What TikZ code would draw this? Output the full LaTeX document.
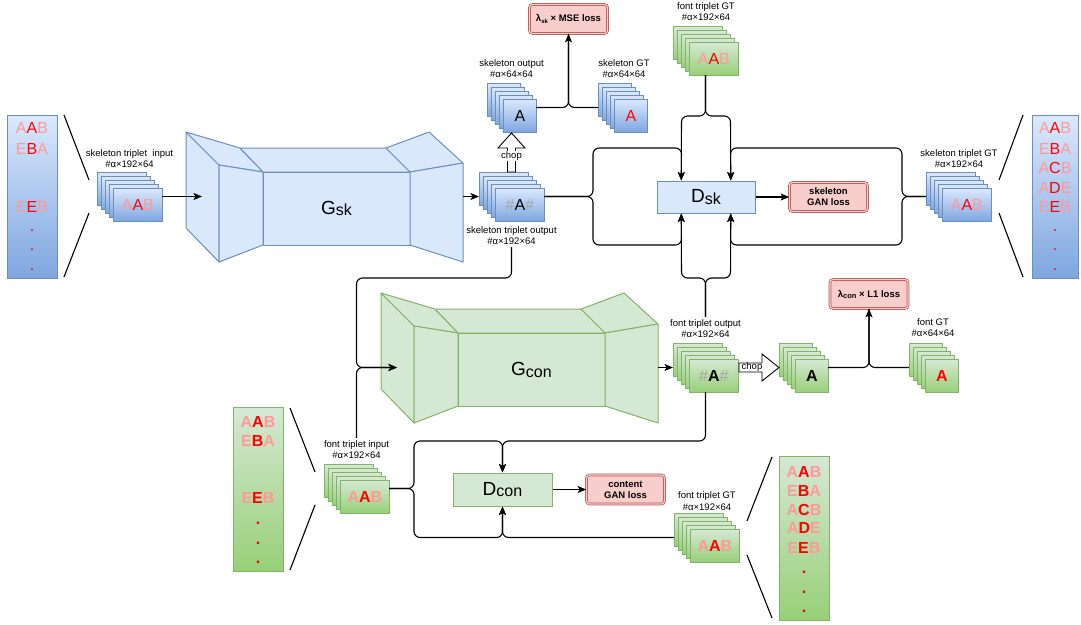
\documentclass[tikz,border=0pt]{standalone}
\usepackage{fontspec}
\setmainfont{Liberation Sans}
\usetikzlibrary{arrows.meta,calc}
\definecolor{bfill}{HTML}{DAE8FC}
\definecolor{bdark}{HTML}{7EA6E0}
\definecolor{bline}{HTML}{6C8EBF}
\definecolor{gfill}{HTML}{D5E8D4}
\definecolor{gdark}{HTML}{97D077}
\definecolor{gline}{HTML}{82B366}
\definecolor{rfill}{HTML}{F8CECC}
\definecolor{rline}{HTML}{B85450}
\definecolor{pinkt}{HTML}{FF9999}
\definecolor{redt}{HTML}{FF0000}
\definecolor{grayt}{HTML}{A6A6A6}
\newcommand{\lbl}{\fontsize{9.5}{11.5}\selectfont}
\newcommand{\cardfont}{\fontsize{16}{19}\selectfont}
\newcommand{\trip}[3]{\textcolor{pinkt}{#1}\textcolor{redt}{#2}\textcolor{pinkt}{#3}}
\newcommand{\hashA}[1]{\textcolor{grayt}{\#}#1\textcolor{grayt}{\#}}
\newcommand{\rdot}{\textcolor{redt}{.}}
\newcommand{\bigsub}[2]{{\fontsize{19}{19}\selectfont #1}\raisebox{-1.5pt}{\fontsize{16}{16}\selectfont #2}}
% #1 name, #2 x, #3 y (back card top-left), #4 w, #5 h, #6 style, #7 text
\newcommand{\cardstack}[7]{%
  \foreach \k in {0,1,2,3}{%
    \node[#6, minimum width=#4pt, minimum height=#5pt, anchor=north west] (#1c\k) at ({#2+4*\k},{#3+4*\k}) {};
  }
  \node[#6, minimum width=#4pt, minimum height=#5pt, anchor=north west] (#1f) at ({#2+16},{#3+16}) {#7};
  \node[inner sep=0pt, outer sep=0pt, minimum width={(#4+16)*1pt}, minimum height={(#5+16)*1pt}, anchor=north west] (#1) at (#2,#3) {};
}
\newcommand{\genshape}[2]{%
  \filldraw[fill=#1, draw=#2, line width=1pt, line join=round] (186,132) -- (219,165) -- (219,262) -- (186,228) -- cycle;
  \filldraw[fill=#1, draw=#2, line width=1pt, line join=round] (186,132) -- (240,148) -- (263,172) -- (219,165) -- cycle;
  \filldraw[fill=#1, draw=#2, line width=1pt, line join=round] (219,165) -- (263,172) -- (263,245) -- (219,262) -- cycle;
  \filldraw[fill=#1, draw=#2, line width=1pt, line join=round] (240,148) -- (386,148) -- (410,172) -- (263,172) -- cycle;
  \filldraw[fill=#1, draw=#2, line width=1pt, line join=round] (263,172) rectangle (410,245);
  \filldraw[fill=#1, draw=#2, line width=1pt, line join=round] (386,148) -- (429,132) -- (463,163) -- (410,172) -- cycle;
  \filldraw[fill=#1, draw=#2, line width=1pt, line join=round] (410,172) -- (463,163) -- (463,262) -- (410,245) -- cycle;
}
\begin{document}
\begin{tikzpicture}[x=1pt,y=-1pt,
  lab/.style={font=\lbl, align=center, inner sep=0pt, outer sep=2.5pt},
  bcard/.style={draw=bline, line width=0.8pt, top color=bfill, bottom color=bdark, inner sep=0pt, font=\cardfont},
  gcard/.style={draw=gline, line width=0.8pt, top color=gfill, bottom color=gdark, inner sep=0pt, font=\cardfont},
  bcol/.style={draw=bline, line width=1.2pt, top color=bfill, bottom color=bdark, anchor=north west, inner sep=0pt},
  gcol/.style={draw=gline, line width=1.2pt, top color=gfill, bottom color=gdark, anchor=north west, inner sep=0pt},
  ctext/.style={font=\cardfont, inner sep=0pt},
  ctextb/.style={font=\cardfont\bfseries, inner sep=0pt},
  zline/.style={line width=1.1pt},
  dboxb/.style={draw=bline, fill=bfill, line width=1pt, minimum width=98pt, minimum height=32pt, inner sep=0pt},
  dboxg/.style={draw=gline, fill=gfill, line width=1pt, minimum width=99pt, minimum height=33pt, inner sep=0pt},
  loss/.style={draw=rline, double=rfill, double distance=1.2pt, line width=0.7pt, fill=rfill, rounded corners=3pt, minimum width=78pt, minimum height=29pt, align=center, inner sep=1pt, font={\fontsize{9.5}{11}\selectfont\bfseries}},
  conn/.style={line width=1.1pt, rounded corners=6pt, -{Stealth[length=8.5pt,width=7pt,inset=2pt]}},
  nconn/.style={line width=1.1pt, rounded corners=6pt},
  blockarr/.style={line width=0.9pt, fill=white, line join=miter}
]
\useasboundingbox (0,0) rectangle (1081,624);

% ---------- columns ----------
\node[bcol, minimum width=50pt, minimum height=163pt] (colA) at (7,115) {};
\foreach \yy/\tx [count=\n] in {128/\trip{A}{A}{B},149/\trip{E}{B}{A},207/\trip{E}{E}{B},231/\rdot,250/\rdot,270/\rdot}
  \node[ctext] (cA\n) at (32,\yy) {\tx};
\draw[zline] (64,115) -- (89,180);
\draw[zline] (89,213) -- (64,277);

\node[bcol, minimum width=46pt, minimum height=163pt] (colB) at (1032,115) {};
\foreach \yy/\tx [count=\n] in {128/\trip{A}{A}{B},149/\trip{E}{B}{A},168/\trip{A}{C}{B},188/\trip{A}{D}{E},207/\trip{E}{E}{B},231/\rdot,250/\rdot,270/\rdot}
  \node[ctext] (cB\n) at (1055,\yy) {\tx};
\draw[zline] (1023,115) -- (999,180);
\draw[zline] (999,213) -- (1023,277);

\node[gcol, minimum width=50pt, minimum height=164pt] (colC) at (233,407) {};
\foreach \yy/\tx [count=\n] in {422/\trip{A}{A}{B},441/\trip{E}{B}{A},498/\trip{E}{E}{B},523/\rdot,543/\rdot,562/\rdot}
  \node[ctextb] (cC\n) at (258,\yy) {\tx};
\draw[zline] (290,408) -- (315,472);
\draw[zline] (315,505) -- (290,570);

\node[gcol, minimum width=50pt, minimum height=164pt] (colD) at (779,456) {};
\foreach \yy/\tx [count=\n] in {472/\trip{A}{A}{B},491/\trip{E}{B}{A},510/\trip{A}{C}{B},528/\trip{A}{D}{E},548/\trip{E}{E}{B},572/\rdot,592/\rdot,611/\rdot}
  \node[ctextb] (cD\n) at (804,\yy) {\tx};
\draw[zline] (772,457) -- (747,521);
\draw[zline] (747,555) -- (772,618);

% ---------- generators ----------
\genshape{bfill}{bline}
\node (gsk) at (336.5,208.5) {\bigsub{G}{sk}};
\begin{scope}[shift={(195,161)}]
  \genshape{gfill}{gline}
\end{scope}
\node (gcon) at (531.5,370) {\bigsub{G}{con}};
\coordinate (gskin) at (202,196.5);
\coordinate (gskout) at (463,196.5);
\coordinate (gconin) at (397,367.5);
\coordinate (gconout) at (658,367.5);

% ---------- stacks ----------
\cardstack{skin}{97}{172}{49}{33}{bcard}{\trip{A}{A}{B}}
\node[lab] (skinl) at (129.5,158.5) {skeleton triplet~ input\\\#α×192×64};

\cardstack{skout}{479}{172}{49}{33}{bcard}{\hashA{A}}
\node[lab] (skoutl) at (511.5,235.5) {skeleton triplet output\\\#α×192×64};

\cardstack{skoutc}{487}{83}{33}{33}{bcard}{A}
\node[lab] (skoutcl) at (511.5,68.5) {skeleton output\\\#α×64×64};

\cardstack{skgt}{598}{83}{33}{33}{bcard}{\textcolor{redt}{A}}
\node[lab] (skgtl) at (624,68.5) {skeleton GT\\\#α×64×64};

\cardstack{ftgta}{673}{26}{49}{33}{gcard}{\trip{A}{A}{B}}
\node[lab] (ftgtal) at (706,11.5) {font triplet GT\\\#α×192×64};

\cardstack{skgtt}{926}{172}{49}{33}{bcard}{\trip{A}{A}{B}}
\node[lab] (skgttl) at (959,158.5) {skeleton triplet GT\\\#α×192×64};

\cardstack{ftout}{673}{343}{49}{33}{gcard}{\hashA{\textbf{A}}}
\node[lab] (ftoutl) at (705.5,328.5) {font triplet output\\\#α×192×64};

\cardstack{chopped}{779}{343}{33}{33}{gcard}{\textbf{A}}

\cardstack{fgt}{909}{343}{33}{33}{gcard}{\textbf{\textcolor{redt}{A}}}
\node[lab] (fgtl) at (933,327.5) {font GT\\\#α×64×64};

\cardstack{ftin}{324}{464}{49}{33}{gcard}{\textbf{\trip{A}{A}{B}}}
\node[lab] (ftinl) at (356.5,449.5) {font triplet input\\\#α×192×64};

\cardstack{ftgtb}{674}{513}{49}{33}{gcard}{\textbf{\trip{A}{A}{B}}}
\node[lab] (ftgtbl) at (707,501) {font triplet GT\\\#α×192×64};

% ---------- discriminators & losses ----------
\node[dboxb] (Dsk) at (706,197) {\bigsub{D}{sk}};
\node[dboxg] (Dcon) at (502.5,489.5) {\bigsub{D}{con}};
\node[loss] (mse) at (568.5,19) {λ\raisebox{-1.5pt}{\fontsize{6}{6}\selectfont sk} × MSE loss};
\node[loss] (skgan) at (828.5,197) {skeleton\\GAN loss};
\node[loss] (lone) at (869,294) {λ\raisebox{-1pt}{\fontsize{7.5}{7.5}\selectfont con} × L1 loss};
\node[loss] (cgan) at (625.5,489.5) {content\\GAN loss};

\coordinate (dskt1) at ($(Dsk.north west)!0.25!(Dsk.north east)$);
\coordinate (dskt2) at ($(Dsk.north west)!0.75!(Dsk.north east)$);
\coordinate (dskb1) at ($(Dsk.south west)!0.25!(Dsk.south east)$);
\coordinate (dskb2) at ($(Dsk.south west)!0.75!(Dsk.south east)$);

% ---------- block arrows (chop) ----------
\draw[blockarr] (507.5,172) -- (507.5,148) -- (498,148) -- (511.5,133) -- (525,148) -- (515.5,148) -- (515.5,172) -- cycle;
\node[font=\lbl, fill=white, inner sep=0.6pt] (chopa) at (511.5,156) {chop};
\draw[blockarr] (739,363) -- (762,363) -- (762,354) -- (779,367.5) -- (762,381) -- (762,372) -- (739,372) -- cycle;
\node[font=\lbl, inner sep=0pt] (chopb) at (752,367) {chop};

% ---------- connectors ----------
\draw[conn] (skin.east) -- (gskin);
\draw[conn] (gskout) -- (skout.west);
\draw[conn] (skoutc.east) -| (mse.south);
\draw[nconn] (skgt.west) -| (mse.south);

\draw[conn] (skout.east) -- (593,196.5) -- (593,148) -- (681.5,148) -- (dskt1);
\draw[conn] (skout.east) -- (593,196.5) -- (593,245) -- (681.5,245) -- (dskb1);
\draw[conn] (ftgta.south) -- (705.5,116) -- (681.5,116) -- (dskt1);
\draw[conn] (ftgta.south) -- (705.5,116) -- (730.5,116) -- (dskt2);
\draw[conn] (skgtt.west) -- (902,196.5) -- (902,148) -- (730.5,148) -- (dskt2);
\draw[conn] (skgtt.west) -- (902,196.5) -- (902,245) -- (730.5,245) -- (dskb2);
\draw[conn] (ftoutl.north) -- (705.5,278) -- (681.5,278) -- (dskb1);
\draw[conn] (ftoutl.north) -- (705.5,278) -- (730.5,278) -- (dskb2);
\draw[conn] (Dsk.east) -- (skgan.west);

\draw[conn] (skoutl.south) -- (511.5,278) -- (356.5,278) -- (356.5,367.5) -- (gconin);
\draw[conn] (ftinl.north) -- (356.5,367.5) -- (gconin);
\draw[conn] (gconout) -- (ftout.west);

\draw[conn] (chopped.east) -| (lone.south);
\draw[nconn] (fgt.west) -| (lone.south);

\draw[conn] (ftout.south) -- (705.5,441) -- (502.5,441) -- (Dcon.north);
\draw[conn] (ftin.east) -- (414,488.5) -- (414,441) -- (502.5,441) -- (Dcon.north);
\draw[conn] (ftin.east) -- (414,488.5) -- (414,537.5) -- (502.5,537.5) -- (Dcon.south);
\draw[conn] (ftgtb.west) -| (Dcon.south);
\draw[conn] (Dcon.east) -- (cgan.west);
\end{tikzpicture}
\end{document}
